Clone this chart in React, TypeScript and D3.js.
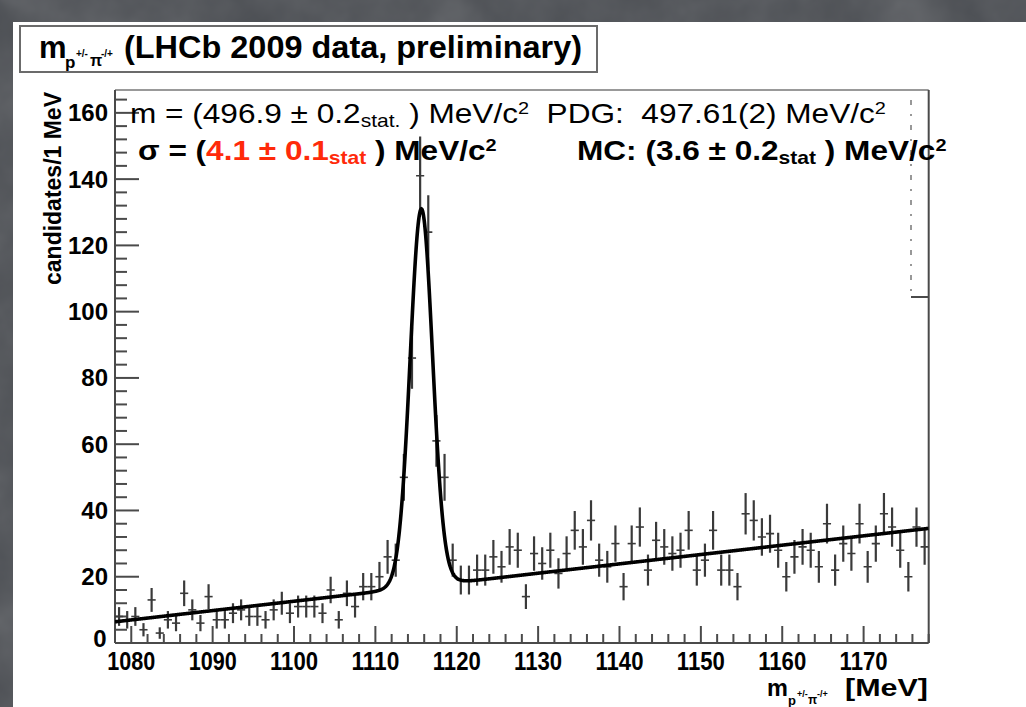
import React from 'react';
import * as d3 from 'd3';

const W = 1026;
const H = 707;

// histogram bins: low edges (1 MeV bins)
const BIN_LOW_EDGES = [
  1078, 1079, 1080, 1081, 1082, 1083, 1084, 1085, 1086, 1087,
  1088, 1089, 1090, 1091, 1092, 1093, 1094, 1095, 1096, 1097,
  1098, 1099, 1100, 1101, 1102, 1103, 1104, 1105, 1106, 1107,
  1108, 1109, 1110, 1111, 1112, 1113, 1114, 1115, 1116, 1117,
  1118, 1119, 1120, 1121, 1122, 1123, 1124, 1125, 1126, 1127,
  1128, 1129, 1130, 1131, 1132, 1133, 1134, 1135, 1136, 1137,
  1138, 1139, 1140, 1141, 1142, 1143, 1144, 1145, 1146, 1147,
  1148, 1149, 1150, 1151, 1152, 1153, 1154, 1155, 1156, 1157,
  1158, 1159, 1160, 1161, 1162, 1163, 1164, 1165, 1166, 1167,
  1168, 1169, 1170, 1171, 1172, 1173, 1174, 1175, 1176, 1177,
];
const BIN_WIDTH = 1;

// candidates per bin
const COUNTS = [
  8, 7, 8, 4, 13, 3, 7, 6, 15, 10,
  6, 14, 7, 7, 9, 10, 8, 8, 7, 10,
  12, 9, 11, 11, 11, 9, 16, 7, 15, 11,
  17, 17, 20, 26, 25, 50, 86, 141, 124, 61,
  50, 25, 19, 19, 22, 22, 26, 23, 29, 28,
  14, 27, 24, 28, 21, 27, 34, 29, 37, 25,
  23, 30, 17, 30, 35, 22, 31, 29, 27, 28,
  34, 22, 25, 34, 22, 22, 17, 39, 37, 32,
  33, 28, 20, 26, 29, 28, 23, 36, 22, 30,
  27, 36, 23, 30, 39, 35, 28, 20, 35, 29,
];

// fit model: linear background + double gaussian (parameters)
const FIT_BG_AT_1078 = 6.4;
const FIT_BG_SLOPE = 0.282;
const FIT_MEAN = 1115.65;
const FIT_AMP_CORE = 106;
const FIT_SIGMA_CORE = 1.35;
const FIT_AMP_TAIL = 8;
const FIT_SIGMA_TAIL = 2.0;

const X_DOMAIN = [1078, 1178];
const Y_DOMAIN = [0, 166.9];
const X_TICK_LABELS = [1080, 1090, 1100, 1110, 1120, 1130, 1140, 1150, 1160, 1170];
const Y_TICK_LABELS = [0, 20, 40, 60, 80, 100, 120, 140, 160];

const FONT = "'Liberation Sans', Arial, Helvetica, sans-serif";
const NB = '\u00A0';

function fitValue(m: number) {
  const bg = FIT_BG_AT_1078 + FIT_BG_SLOPE * (m - 1078);
  const g1 = FIT_AMP_CORE * Math.exp(-0.5 * ((m - FIT_MEAN) / FIT_SIGMA_CORE) ** 2);
  const g2 = FIT_AMP_TAIL * Math.exp(-0.5 * ((m - FIT_MEAN) / FIT_SIGMA_TAIL) ** 2);
  return bg + g1 + g2;
}

export default function App() {
  const left = 115, right = 928.7, top = 90, bottom = 643;
  const x = d3.scaleLinear().domain(X_DOMAIN).range([left, right]);
  const y = d3.scaleLinear().domain(Y_DOMAIN).range([bottom, top]);

  const xMinor = d3.range(X_DOMAIN[0], X_DOMAIN[1] + 0.001, 2);
  const yMinor = d3.range(0, 164.001, 4);

  const fitSamples = d3.range(X_DOMAIN[0], X_DOMAIN[1] + 0.001, 0.05);
  const fitPath = d3
    .line<number>()
    .x((m) => x(m))
    .y((m) => y(fitValue(m)))(fitSamples) as string;

  const axisColor = '#4a4a4a';
  const barColor = '#3a3a3a';
  const SX = 1.17;

  return (
    <svg
      width={W}
      height={H}
      style={{ position: 'absolute', left: 0, top: 0, display: 'block' }}
      xmlns="http://www.w3.org/2000/svg"
    >
      <defs>
        <filter id="slate" x="0" y="0" width="100%" height="100%">
          <feTurbulence type="fractalNoise" baseFrequency="0.015" numOctaves="4" seed="7" />
          <feColorMatrix type="saturate" values="0" />
        </filter>
        <clipPath id="frame">
          <rect x={left} y={top} width={right - left} height={bottom - top} />
        </clipPath>
      </defs>

      {/* slide background */}
      <rect x={0} y={0} width={W} height={H} fill="#4a4d52" />
      <rect x={0} y={0} width={W} height={H} filter="url(#slate)" opacity={0.22} />
      {/* white picture */}
      <rect x={13} y={22} width={W - 13} height={H - 22} fill="#ffffff" />

      {/* title box */}
      <rect x={20} y={26} width={577} height={46} fill="#fff" stroke="#6b6b6b" strokeWidth={2} />
      <g fontFamily={FONT} fontWeight="bold" fill="#000">
        <text x={39} y={58} fontSize={31}>m</text>
        <text x={65} y={68} fontSize={17}>p</text>
        <text x={76} y={57} fontSize={10}>+/-</text>
        <text x={90} y={66} fontSize={16}>π</text>
        <text x={101} y={57} fontSize={10}>-/+</text>
        <text x={124} y={58} fontSize={31} textLength={458} lengthAdjust="spacingAndGlyphs">
          (LHCb 2009 data, preliminary)
        </text>
      </g>

      {/* frame */}
      <line x1={left} x2={right} y1={top} y2={top} stroke="#777" strokeWidth={1.6} />
      <line x1={right} x2={right} y1={top} y2={bottom} stroke={axisColor} strokeWidth={2} />
      <line x1={left} x2={left} y1={top} y2={bottom} stroke={axisColor} strokeWidth={2} />
      <line x1={left} x2={right} y1={bottom} y2={bottom} stroke={axisColor} strokeWidth={2} />

      {/* y ticks (inward) */}
      {yMinor.map((v) => (
        <line key={'ym' + v} x1={left} x2={left + (v % 20 === 0 ? 24 : 12)} y1={y(v)} y2={y(v)} stroke={axisColor} strokeWidth={2} />
      ))}
      {/* x ticks (inward) */}
      {xMinor.map((v) => (
        <line key={'xm' + v} x1={x(v)} x2={x(v)} y1={bottom} y2={bottom - (v % 10 === 0 ? 17 : 9)} stroke={axisColor} strokeWidth={2} />
      ))}

      {/* stats remnant box */}
      <line x1={911} x2={911} y1={100} y2={297} stroke="#777" strokeWidth={1.5} strokeDasharray="5 9 2 9" />
      <line x1={911} x2={right} y1={297} y2={297} stroke={axisColor} strokeWidth={2} />

      {/* data points with error bars */}
      <g clipPath="url(#frame)" stroke={barColor}>
        {COUNTS.map((n, i) => {
          const lo = BIN_LOW_EDGES[i];
          const c = lo + BIN_WIDTH / 2;
          const e = Math.sqrt(n);
          return (
            <g key={'p' + i}>
              <line x1={x(c)} x2={x(c)} y1={y(Math.max(0, n - e))} y2={y(n + e)} strokeWidth={2.2} />
              <line x1={x(lo)} x2={x(lo + BIN_WIDTH)} y1={y(n)} y2={y(n)} strokeWidth={1.6} />
            </g>
          );
        })}
      </g>

      {/* fit */}
      <path d={fitPath} fill="none" stroke="#000" strokeWidth={3.6} clipPath="url(#frame)" />

      {/* y tick labels */}
      <g fontFamily={FONT} fontWeight="bold" fontSize={24} fill="#000">
        {Y_TICK_LABELS.filter((v) => v > 0).map((v) => (
          <text key={'yl' + v} x={108} y={y(v) + 8.5} textAnchor="end">{v}</text>
        ))}
        <text x={100} y={y(0) + 4} textAnchor="middle">0</text>
      </g>

      {/* x tick labels */}
      <g fontFamily={FONT} fontWeight="bold" fontSize={25} fill="#000">
        {X_TICK_LABELS.map((v) => (
          <text key={'xl' + v} x={x(v)} y={670} textAnchor="middle" textLength={48} lengthAdjust="spacingAndGlyphs">{v}</text>
        ))}
      </g>

      {/* axis titles */}
      <g fontFamily={FONT} fontWeight="bold" fill="#000">
        <text transform="translate(61,92) rotate(-90)" fontSize={23} textAnchor="end" textLength={193} lengthAdjust="spacingAndGlyphs">candidates/1 MeV</text>
        <text x={767} y={696} fontSize={23.5}>m</text>
        <text x={788} y={705} fontSize={13}>p</text>
        <text x={797} y={697} fontSize={9}>+/-</text>
        <text x={808} y={704} fontSize={12}>π</text>
        <text x={817} y={697} fontSize={9}>-/+</text>
        <text x={845} y={696} fontSize={23.5} textLength={83} lengthAdjust="spacingAndGlyphs">[MeV]</text>
      </g>

      {/* fit results text */}
      <g fontFamily={FONT} fill="#000">
        <g transform={`translate(130,123) scale(${SX},1)`}>
          <text x={0} y={0} fontSize={27}>
            {'m = (496.9 ± 0.2'}
            <tspan fontSize={18} dy={4}>stat.</tspan>
            <tspan dy={-4}>{NB + ') MeV/c'}</tspan>
            <tspan fontSize={17} dy={-9}>2</tspan>
            <tspan dy={9}>{NB + NB + 'PDG:' + NB + NB + '497.61(2) MeV/c'}</tspan>
            <tspan fontSize={17} dy={-9}>2</tspan>
          </text>
        </g>
        <g transform={`translate(138,160) scale(${SX},1)`}>
          <text x={0} y={0} fontSize={27} fontWeight="bold">
            {'σ = ('}
            <tspan fill="#ff2a0a">4.1 ± 0.1</tspan>
            <tspan fill="#ff2a0a" fontSize={18} dy={4}>stat</tspan>
            <tspan dy={-4}>{NB + ') MeV/c'}</tspan>
            <tspan fontSize={17} dy={-9}>2</tspan>
          </text>
        </g>
        <g transform={`translate(577,160) scale(${SX},1)`}>
          <text x={0} y={0} fontSize={27} fontWeight="bold">
            {'MC: (3.6 ± 0.2'}
            <tspan fontSize={18} dy={4}>stat</tspan>
            <tspan dy={-4}>{NB + ') MeV/c'}</tspan>
            <tspan fontSize={17} dy={-9}>2</tspan>
          </text>
        </g>
      </g>
    </svg>
  );
}
